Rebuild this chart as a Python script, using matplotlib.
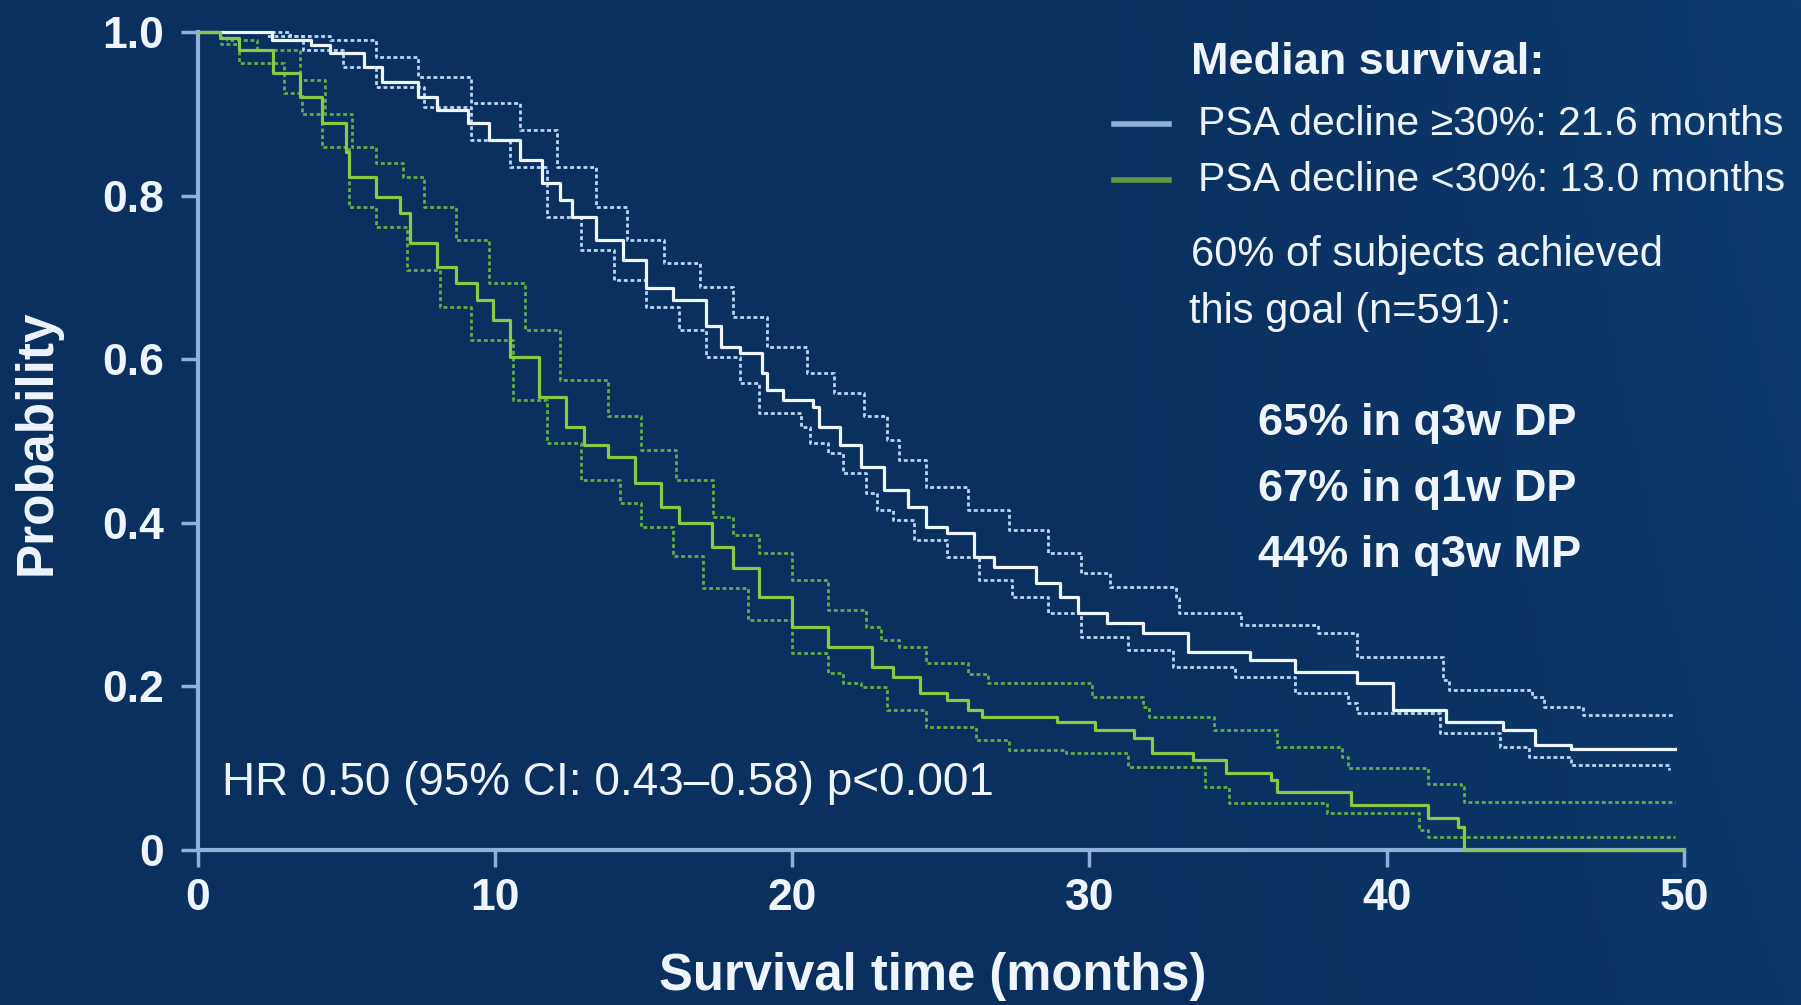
import numpy as np
import matplotlib
matplotlib.use("Agg")
import matplotlib.pyplot as plt
from matplotlib.lines import Line2D

# ---- Kaplan-Meier estimates (months, survival probability) ----
# PSA decline >=30%
hi_t = [0, 2.5, 3.8, 4.45, 5.6, 6.2, 7.4, 8.05, 9.1, 9.8, 10.85, 11.6, 12.2, 12.6, 13.4,
        14.3, 15.1, 16.0, 17.1, 17.6, 18.25, 19.0, 19.15, 19.7, 20.7, 20.9, 21.6, 22.3,
        23.1, 23.9, 24.5, 25.2, 26.1, 26.8, 28.2, 29.0, 29.6, 30.6, 31.8, 33.3, 35.4,
        36.9, 39.0, 40.2, 42.0, 43.9, 45.0, 46.2, 49.7]
hi_s = [1.0, 0.99, 0.984, 0.974, 0.957, 0.939, 0.92, 0.905, 0.889, 0.868, 0.843, 0.815,
        0.795, 0.774, 0.746, 0.721, 0.687, 0.672, 0.64, 0.615, 0.608, 0.583, 0.562, 0.55,
        0.542, 0.517, 0.495, 0.468, 0.44, 0.419, 0.395, 0.388, 0.358, 0.346, 0.326, 0.309,
        0.29, 0.278, 0.265, 0.242, 0.232, 0.218, 0.204, 0.171, 0.156, 0.147, 0.128, 0.123,
        0.123]
hi_up_t = [0, 3.1, 4.45, 6.0, 7.4, 9.2, 10.85, 12.1, 13.4, 14.45, 15.7, 16.9, 18.0, 19.15,
           20.5, 21.4, 22.4, 23.2, 23.6, 24.5, 25.9, 27.3, 28.6, 29.7, 30.7, 32.9, 33.0,
           35.1, 37.7, 39.0, 41.9, 42.1, 44.9, 45.3, 46.6, 49.7]
hi_up_s = [1.0, 0.995, 0.99, 0.969, 0.945, 0.913, 0.88, 0.835, 0.786, 0.746, 0.718, 0.688,
           0.652, 0.615, 0.583, 0.559, 0.53, 0.501, 0.477, 0.444, 0.416, 0.391, 0.363,
           0.339, 0.322, 0.308, 0.29, 0.275, 0.265, 0.236, 0.208, 0.196, 0.187, 0.175,
           0.165, 0.165]
hi_lo_t = [0, 2.35, 3.55, 4.9, 6.0, 7.6, 9.2, 10.5, 11.75, 12.9, 14.0, 15.1, 16.2, 17.1,
           18.25, 18.9, 20.3, 20.6, 21.2, 21.7, 22.5, 22.85, 23.4, 24.1, 25.2, 26.3, 27.4,
           28.6, 29.7, 31.3, 32.8, 34.9, 36.9, 38.7, 39.0, 41.8, 43.8, 44.8, 46.2, 49.5]
hi_lo_s = [1.0, 0.995, 0.978, 0.957, 0.933, 0.908, 0.868, 0.835, 0.774, 0.733, 0.697,
           0.664, 0.636, 0.603, 0.571, 0.534, 0.517, 0.498, 0.485, 0.461, 0.436, 0.416,
           0.403, 0.379, 0.358, 0.33, 0.309, 0.29, 0.26, 0.244, 0.224, 0.212, 0.192, 0.18,
           0.167, 0.143, 0.126, 0.114, 0.104, 0.098]

# PSA decline <30%
lo_t = [0, 0.75, 1.4, 2.55, 3.45, 4.2, 5.0, 5.1, 6.0, 6.8, 7.15, 8.05, 8.7, 9.4, 9.95,
        10.5, 11.5, 12.4, 13.0, 13.8, 14.7, 15.6, 16.2, 17.3, 18.0, 18.9, 20.0, 21.2, 22.7,
        23.4, 24.3, 25.2, 25.9, 26.4, 28.9, 30.2, 31.5, 32.1, 33.5, 34.6, 36.1, 36.3, 38.8,
        41.4, 42.4, 42.6, 50.0]
lo_s = [1.0, 0.993, 0.978, 0.95, 0.92, 0.889, 0.853, 0.823, 0.798, 0.779, 0.742, 0.713,
        0.693, 0.672, 0.648, 0.603, 0.554, 0.517, 0.495, 0.48, 0.449, 0.419, 0.4, 0.37,
        0.345, 0.309, 0.273, 0.248, 0.224, 0.211, 0.192, 0.183, 0.171, 0.163, 0.157, 0.147,
        0.137, 0.118, 0.11, 0.094, 0.086, 0.071, 0.055, 0.039, 0.028, 0.0, 0.0]
lo_up_t = [0, 1.0, 2.0, 3.45, 4.3, 5.2, 6.0, 6.9, 7.6, 8.7, 9.8, 11.0, 12.2, 13.8, 14.9,
           16.1, 17.35, 18.0, 18.9, 20.0, 21.2, 22.5, 23.0, 23.6, 24.5, 25.9, 26.6, 30.1,
           31.8, 32.0, 34.2, 36.3, 38.5, 38.7, 41.4, 42.5, 42.6, 49.7]
lo_up_s = [1.0, 0.99, 0.978, 0.941, 0.9, 0.86, 0.84, 0.823, 0.786, 0.746, 0.693, 0.636,
           0.575, 0.53, 0.489, 0.452, 0.407, 0.385, 0.363, 0.33, 0.293, 0.273, 0.257, 0.248,
           0.229, 0.215, 0.204, 0.187, 0.175, 0.163, 0.147, 0.126, 0.114, 0.1, 0.081, 0.077,
           0.059, 0.059]
lo_lo_t = [0, 0.8, 1.4, 2.9, 3.5, 4.2, 5.1, 6.0, 7.05, 8.15, 9.2, 10.6, 11.75, 12.9, 14.2,
           14.9, 16.0, 17.0, 18.5, 20.0, 21.2, 21.7, 22.3, 23.2, 24.5, 26.2, 27.3, 29.2,
           31.3, 33.9, 34.7, 38.0, 41.1, 41.4, 49.7]
lo_lo_s = [1.0, 0.985, 0.962, 0.925, 0.9, 0.86, 0.786, 0.762, 0.709, 0.664, 0.623, 0.55,
           0.498, 0.452, 0.424, 0.395, 0.36, 0.32, 0.281, 0.241, 0.216, 0.204, 0.199, 0.171,
           0.15, 0.134, 0.122, 0.118, 0.102, 0.077, 0.057, 0.045, 0.024, 0.016, 0.016]

x_ticks = [0, 10, 20, 30, 40, 50]
y_ticks = [0, 0.2, 0.4, 0.6, 0.8, 1.0]
y_tick_labels = ["0", "0.2", "0.4", "0.6", "0.8", "1.0"]

BG = "#0a3160"
AXIS = "#8eb1da"
WHITE_MAIN = "#eef6ff"
WHITE_CI = "#b8d6f5"
GREEN_MAIN = "#8ac943"
GREEN_CI = "#5fae45"
TXT = "#eef5ff"

FONT = ["Liberation Sans", "DejaVu Sans"]

W, H = 1801, 1005
fig = plt.figure(figsize=(W / 100, H / 100), dpi=100)
fig.patch.set_facecolor(BG)

# soft background shading, slightly lighter toward the right
bg_ax = fig.add_axes([0, 0, 1, 1], zorder=-10)
gx = np.linspace(0, 1, 400)
gy = np.linspace(0, 1, 220)
GX, GY = np.meshgrid(gx, gy)
shade = np.clip((GX - 0.55) / 0.45, 0, 1) ** 1.5 * (0.6 + 0.4 * GY)
c0 = np.array([9, 48, 95]) / 255.0
c1 = np.array([14, 60, 112]) / 255.0
img = c0[None, None, :] * (1 - shade[..., None]) + c1[None, None, :] * shade[..., None]
bg_ax.imshow(img, aspect="auto", extent=[0, 1, 0, 1], origin="lower")
bg_ax.axis("off")

def fx(px):
    return px / W

def fy(py):
    return 1 - py / H

x0, x1 = 197.6, 1684.0
y_top, y_bot = 32.0, 850.0
ax = fig.add_axes([fx(x0), fy(y_bot), (x1 - x0) / W, (y_bot - y_top) / H])
ax.set_facecolor("none")
ax.set_xlim(0, 50)
ax.set_ylim(0, 1.0)

dot = (0, (1.4, 1.0))
ci_lw = 2.0
ax.plot(hi_up_t, hi_up_s, drawstyle="steps-post", color=WHITE_CI, lw=ci_lw, ls=dot, clip_on=False, zorder=3)
ax.plot(hi_lo_t, hi_lo_s, drawstyle="steps-post", color=WHITE_CI, lw=ci_lw, ls=dot, clip_on=False, zorder=3)
ax.plot(lo_up_t, lo_up_s, drawstyle="steps-post", color=GREEN_CI, lw=ci_lw, ls=dot, clip_on=False, zorder=3)
ax.plot(lo_lo_t, lo_lo_s, drawstyle="steps-post", color=GREEN_CI, lw=ci_lw, ls=dot, clip_on=False, zorder=3)
ax.plot(hi_t, hi_s, drawstyle="steps-post", color=WHITE_MAIN, lw=2.3, clip_on=False, zorder=4)
ax.plot(lo_t, lo_s, drawstyle="steps-post", color=GREEN_MAIN, lw=2.3, clip_on=False, zorder=5)

for side in ["top", "right"]:
    ax.spines[side].set_visible(False)
for side in ["left", "bottom"]:
    ax.spines[side].set_color(AXIS)
    ax.spines[side].set_linewidth(3)
    ax.spines[side].set_zorder(2)

ax.set_xticks(x_ticks)
ax.set_yticks(y_ticks)
ax.set_yticklabels(y_tick_labels)
ax.tick_params(axis="both", colors=AXIS, width=2.5, length=12, direction="out")
ax.tick_params(axis="x", pad=8)
ax.tick_params(axis="y", pad=12)
for lab in ax.get_xticklabels() + ax.get_yticklabels():
    lab.set_fontfamily(FONT)
    lab.set_fontweight("bold")
    lab.set_fontsize(32)
    lab.set_color(TXT)

fig.text(fx(933), fy(976), "Survival time (months)", family=FONT, weight="bold",
         fontsize=36.5, color=TXT, ha="center", va="center")
fig.text(fx(37), fy(442), "Probability", family=FONT, weight="bold",
         fontsize=37, color=TXT, ha="center", va="center", rotation=90)

# annotation block on the right
fig.text(fx(1191), fy(63), "Median survival:", family=FONT, weight="bold",
         fontsize=32.5, color=TXT, ha="left", va="center")
fig.add_artist(Line2D([fx(1114), fx(1169)], [fy(124), fy(124)], color="#8fb0d8", lw=4))
fig.add_artist(Line2D([fx(1114), fx(1169)], [fy(180), fy(180)], color="#5c9a3e", lw=4))
fig.text(fx(1198), fy(124), "PSA decline \u226530%: 21.6 months", family=FONT,
         fontsize=29.5, color=TXT, ha="left", va="center")
fig.text(fx(1198), fy(180), "PSA decline <30%: 13.0 months", family=FONT,
         fontsize=29.5, color=TXT, ha="left", va="center")
fig.text(fx(1191), fy(255), "60% of subjects achieved", family=FONT,
         fontsize=30, color=TXT, ha="left", va="center")
fig.text(fx(1189), fy(312), "this goal (n=591):", family=FONT,
         fontsize=30, color=TXT, ha="left", va="center")
for yy, s in [(423, "65% in q3w DP"), (489, "67% in q1w DP"), (556, "44% in q3w MP")]:
    fig.text(fx(1258), fy(yy), s, family=FONT, weight="bold",
             fontsize=32.5, color=TXT, ha="left", va="center")

fig.text(fx(222), fy(783), "HR 0.50 (95% CI: 0.43\u20130.58) p<0.001", family=FONT,
         fontsize=33, color=TXT, ha="left", va="center")

fig.savefig("out.png", dpi=100, facecolor=fig.get_facecolor())
